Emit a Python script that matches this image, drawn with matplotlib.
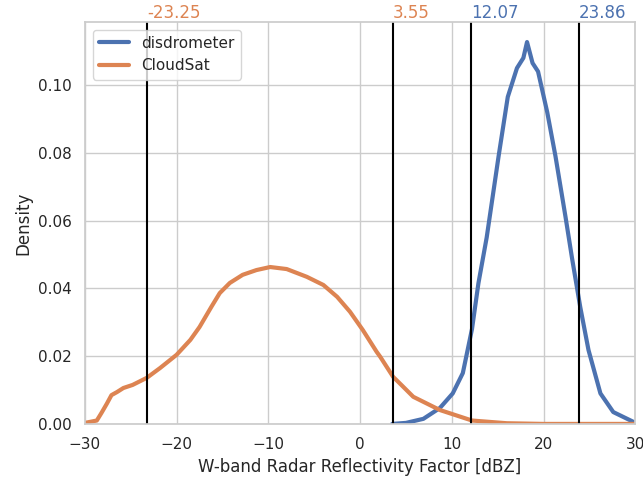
import matplotlib
matplotlib.use("Agg")
import matplotlib.pyplot as plt
import seaborn as sns

# disdrometer density
dis_x = [3.5, 5.0, 6.9, 8.7, 10.1, 11.2, 12.2, 12.9, 13.8, 15.1, 16.1, 17.1, 17.8,
         18.2, 18.8, 19.4, 20.4, 21.3, 22.4, 23.1, 24.0, 24.9, 26.2, 27.6, 29.8]
dis_y = [0.0, 0.0003, 0.0015, 0.0047, 0.009, 0.015, 0.028, 0.0415, 0.055, 0.079,
         0.0965, 0.105, 0.108, 0.1127, 0.1065, 0.104, 0.092, 0.079, 0.061, 0.049,
         0.0345, 0.0218, 0.009, 0.0035, 0.0006]

# CloudSat density
cs_x = [-30.0, -28.7, -28.2, -27.6, -27.1, -26.5, -25.8, -24.8, -23.25, -21.8, -20.0,
        -18.5, -17.5, -16.2, -15.3, -14.2, -12.8, -11.3, -9.8, -8.0, -5.8, -4.0, -2.5,
        -1.1, 0.3, 1.8, 2.2, 3.6, 4.5, 5.8, 8.7, 12.2, 16.0, 20.0, 25.0, 30.0]
cs_y = [0.0003, 0.001, 0.0032, 0.006, 0.0085, 0.0094, 0.0106, 0.0115, 0.0136, 0.0165,
        0.0204, 0.0248, 0.0286, 0.0346, 0.0386, 0.0416, 0.044, 0.0454, 0.0463, 0.0457,
        0.0434, 0.041, 0.0375, 0.0331, 0.0277, 0.0213, 0.0198, 0.0139, 0.0115, 0.008,
        0.0041, 0.001, 0.0002, 0.0, 0.0, 0.0]

# percentile markers
cs_marks = [-23.25, 3.55]
dis_marks = [12.07, 23.86]

sns.set_theme(style="whitegrid")
blue, orange = sns.color_palette("deep")[0], sns.color_palette("deep")[1]

fig, ax = plt.subplots(figsize=(6.43, 4.79), dpi=100)
fig.subplots_adjust(left=0.132, right=0.988, bottom=0.115, top=0.954)

ax.plot(dis_x, dis_y, color=blue, lw=3, label="disdrometer")
ax.plot(cs_x, cs_y, color=orange, lw=3, label="CloudSat")

for v, c in [(m, orange) for m in cs_marks] + [(m, blue) for m in dis_marks]:
    ax.axvline(v, color="black", lw=1.5)
    ax.text(v, 1.0, f"{v:.2f}", color=c, fontsize=12, ha="left", va="bottom",
            transform=ax.get_xaxis_transform())

ax.set_xlim(-30, 30)
ax.set_ylim(0, 0.1186)
ax.set_xlabel("W-band Radar Reflectivity Factor [dBZ]")
ax.set_ylabel("Density")
ax.legend(loc="upper left")

fig.savefig("out.png", dpi=100)
